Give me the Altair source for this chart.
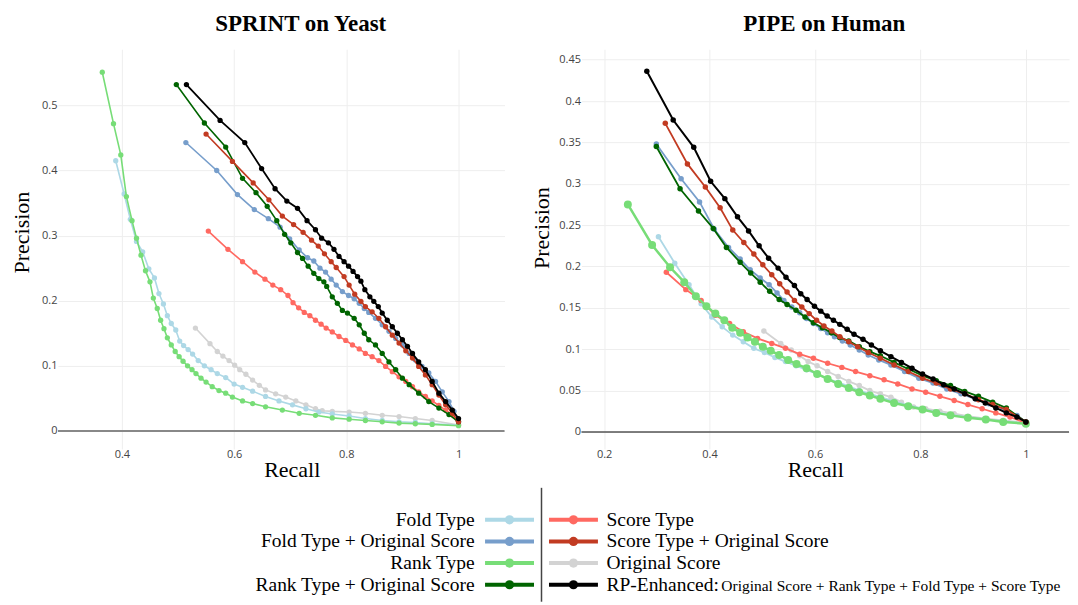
import altair as alt
import pandas as pd

SERIF = "Liberation Serif"
SANS = "Open Sans"

SERIES = ["Fold Type", "Fold Type + Original Score", "Rank Type", "Rank Type + Original Score",
          "Score Type", "Score Type + Original Score", "Original Score", "RP-Enhanced"]
COLORS = ["#ADD8E6", "#779ECB", "#77DD77", "#006400", "#FF6961", "#C23B22", "#D3D3D3", "#000000"]
DRAW_ORDER = ["Original Score", "Fold Type", "Score Type", "Rank Type", "Fold Type + Original Score",
              "Rank Type + Original Score", "Score Type + Original Score", "RP-Enhanced"]

# ---------------- SPRINT on Yeast ----------------
Y_FOLD_R = [0.389, 0.404, 0.415, 0.426, 0.437, 0.448, 0.458, 0.466, 0.474, 0.481, 0.488, 0.496, 0.503, 0.510, 0.518, 0.526, 0.536, 0.547, 0.559, 0.570, 0.585, 0.600, 0.615, 0.633, 0.656, 0.680, 0.704, 0.728, 0.751, 0.775, 0.805, 0.834, 0.864, 0.894, 0.923, 0.953, 1.0]
Y_FOLD_P = [0.415, 0.364, 0.325, 0.291, 0.275, 0.249, 0.235, 0.211, 0.195, 0.177, 0.165, 0.155, 0.138, 0.131, 0.125, 0.118, 0.108, 0.100, 0.094, 0.088, 0.082, 0.072, 0.067, 0.061, 0.053, 0.046, 0.040, 0.034, 0.029, 0.026, 0.023, 0.019, 0.016, 0.014, 0.013, 0.011, 0.009]
Y_FOLDO_R = [0.514, 0.569, 0.606, 0.636, 0.661, 0.682, 0.699, 0.716, 0.731, 0.742, 0.753, 0.763, 0.773, 0.782, 0.793, 0.804, 0.814, 0.823, 0.832, 0.840, 0.852, 0.864, 0.876, 0.888, 0.900, 0.912, 0.923, 0.935, 0.947, 0.959, 0.971, 0.983, 0.992, 1.0]
Y_FOLDO_P = [0.443, 0.400, 0.363, 0.340, 0.326, 0.313, 0.295, 0.278, 0.266, 0.261, 0.250, 0.244, 0.233, 0.224, 0.214, 0.208, 0.203, 0.196, 0.188, 0.182, 0.173, 0.163, 0.153, 0.142, 0.132, 0.119, 0.109, 0.099, 0.089, 0.076, 0.060, 0.045, 0.030, 0.014]
Y_RANK_R = [0.365, 0.385, 0.398, 0.408, 0.418, 0.426, 0.434, 0.442, 0.450, 0.456, 0.463, 0.469, 0.475, 0.481, 0.488, 0.495, 0.502, 0.509, 0.517, 0.525, 0.532, 0.541, 0.550, 0.561, 0.573, 0.585, 0.597, 0.615, 0.633, 0.656, 0.686, 0.716, 0.745, 0.775, 0.805, 0.834, 0.864, 0.894, 0.923, 0.953, 1.0]
Y_RANK_P = [0.551, 0.472, 0.424, 0.360, 0.323, 0.296, 0.270, 0.246, 0.229, 0.204, 0.188, 0.170, 0.157, 0.143, 0.132, 0.122, 0.114, 0.107, 0.100, 0.094, 0.088, 0.081, 0.075, 0.068, 0.062, 0.058, 0.052, 0.046, 0.042, 0.037, 0.032, 0.027, 0.024, 0.020, 0.018, 0.016, 0.014, 0.012, 0.011, 0.010, 0.008]
Y_RANKO_R = [0.497, 0.547, 0.585, 0.615, 0.639, 0.659, 0.676, 0.690, 0.701, 0.713, 0.722, 0.732, 0.742, 0.751, 0.760, 0.765, 0.775, 0.784, 0.793, 0.802, 0.814, 0.823, 0.832, 0.840, 0.852, 0.864, 0.876, 0.888, 0.900, 0.912, 0.929, 0.947, 0.965, 0.983, 1.0]
Y_RANKO_P = [0.532, 0.473, 0.436, 0.388, 0.366, 0.345, 0.323, 0.302, 0.289, 0.274, 0.265, 0.253, 0.242, 0.234, 0.229, 0.222, 0.206, 0.196, 0.185, 0.181, 0.173, 0.163, 0.150, 0.140, 0.132, 0.119, 0.106, 0.094, 0.081, 0.071, 0.058, 0.045, 0.035, 0.025, 0.014]
Y_SCORE_R = [0.554, 0.589, 0.615, 0.637, 0.655, 0.669, 0.683, 0.696, 0.705, 0.715, 0.725, 0.735, 0.745, 0.755, 0.764, 0.775, 0.787, 0.799, 0.811, 0.823, 0.834, 0.846, 0.858, 0.870, 0.882, 0.894, 0.906, 0.918, 0.929, 0.941, 0.953, 0.965, 0.977, 0.989, 1.0]
Y_SCORE_P = [0.307, 0.279, 0.260, 0.244, 0.233, 0.224, 0.217, 0.208, 0.197, 0.189, 0.182, 0.177, 0.170, 0.164, 0.158, 0.152, 0.145, 0.139, 0.132, 0.126, 0.119, 0.114, 0.108, 0.099, 0.091, 0.083, 0.076, 0.068, 0.060, 0.053, 0.046, 0.039, 0.032, 0.025, 0.009]
Y_SCOREO_R = [0.550, 0.597, 0.634, 0.662, 0.686, 0.706, 0.723, 0.738, 0.750, 0.761, 0.773, 0.782, 0.796, 0.805, 0.815, 0.826, 0.834, 0.846, 0.858, 0.870, 0.882, 0.894, 0.906, 0.918, 0.929, 0.941, 0.953, 0.965, 0.977, 0.989, 1.0]
Y_SCOREO_P = [0.456, 0.414, 0.381, 0.355, 0.330, 0.317, 0.305, 0.293, 0.284, 0.272, 0.260, 0.251, 0.237, 0.224, 0.210, 0.199, 0.191, 0.183, 0.173, 0.160, 0.147, 0.135, 0.123, 0.112, 0.099, 0.086, 0.071, 0.055, 0.040, 0.027, 0.014]
Y_ORIG_R = [0.531, 0.557, 0.570, 0.580, 0.591, 0.601, 0.610, 0.621, 0.633, 0.645, 0.656, 0.674, 0.692, 0.710, 0.728, 0.745, 0.757, 0.775, 0.805, 0.834, 0.864, 0.894, 0.923, 0.953, 1.0]
Y_ORIG_P = [0.158, 0.134, 0.122, 0.115, 0.108, 0.101, 0.094, 0.087, 0.078, 0.070, 0.063, 0.057, 0.052, 0.046, 0.040, 0.034, 0.031, 0.030, 0.029, 0.027, 0.024, 0.022, 0.019, 0.016, 0.009]
Y_RP_R = [0.515, 0.575, 0.619, 0.649, 0.673, 0.694, 0.713, 0.730, 0.745, 0.756, 0.768, 0.778, 0.787, 0.796, 0.804, 0.812, 0.820, 0.826, 0.833, 0.842, 0.849, 0.857, 0.864, 0.873, 0.882, 0.891, 0.900, 0.909, 0.918, 0.929, 0.941, 0.953, 0.965, 0.977, 0.989, 1.0]
Y_RP_P = [0.532, 0.477, 0.443, 0.403, 0.372, 0.353, 0.342, 0.323, 0.309, 0.296, 0.289, 0.279, 0.268, 0.260, 0.253, 0.245, 0.237, 0.230, 0.217, 0.206, 0.199, 0.191, 0.181, 0.170, 0.160, 0.150, 0.140, 0.130, 0.119, 0.106, 0.094, 0.076, 0.058, 0.045, 0.032, 0.019]

# ---------------- PIPE on Human ----------------
H_FOLD_R = [0.303, 0.334, 0.361, 0.384, 0.404, 0.424, 0.444, 0.464, 0.484, 0.504, 0.524, 0.544, 0.564, 0.584, 0.604, 0.624, 0.644, 0.664, 0.684, 0.704, 0.724, 0.750, 0.777, 0.804, 0.830, 0.857, 0.890, 0.924, 0.957, 1.0]
H_FOLD_P = [0.236, 0.204, 0.178, 0.155, 0.139, 0.127, 0.117, 0.109, 0.101, 0.096, 0.090, 0.085, 0.080, 0.075, 0.070, 0.064, 0.060, 0.055, 0.050, 0.046, 0.042, 0.037, 0.032, 0.028, 0.024, 0.021, 0.018, 0.015, 0.013, 0.010]
H_FOLDO_R = [0.299, 0.346, 0.381, 0.409, 0.436, 0.458, 0.477, 0.496, 0.513, 0.528, 0.541, 0.556, 0.571, 0.584, 0.597, 0.611, 0.624, 0.637, 0.652, 0.667, 0.684, 0.701, 0.721, 0.744, 0.770, 0.797, 0.824, 0.850, 0.877, 0.904, 0.930, 0.957, 0.983, 1.0]
H_FOLDO_P = [0.348, 0.306, 0.278, 0.245, 0.223, 0.209, 0.196, 0.186, 0.178, 0.168, 0.159, 0.151, 0.144, 0.137, 0.131, 0.125, 0.120, 0.115, 0.110, 0.105, 0.099, 0.093, 0.087, 0.081, 0.073, 0.065, 0.059, 0.052, 0.046, 0.040, 0.034, 0.028, 0.020, 0.012]
H_RANK_R = [0.245, 0.291, 0.325, 0.352, 0.374, 0.394, 0.411, 0.428, 0.443, 0.458, 0.472, 0.486, 0.501, 0.516, 0.532, 0.549, 0.565, 0.584, 0.604, 0.624, 0.644, 0.664, 0.684, 0.704, 0.724, 0.750, 0.777, 0.804, 0.830, 0.857, 0.890, 0.924, 0.957, 1.0]
H_RANK_P = [0.275, 0.226, 0.199, 0.181, 0.164, 0.152, 0.143, 0.135, 0.126, 0.120, 0.114, 0.109, 0.103, 0.098, 0.093, 0.087, 0.082, 0.077, 0.070, 0.064, 0.058, 0.053, 0.048, 0.044, 0.040, 0.035, 0.031, 0.027, 0.023, 0.020, 0.017, 0.015, 0.012, 0.010]
H_RANKO_R = [0.299, 0.344, 0.379, 0.407, 0.432, 0.458, 0.478, 0.496, 0.514, 0.532, 0.547, 0.564, 0.581, 0.597, 0.614, 0.631, 0.647, 0.664, 0.684, 0.704, 0.724, 0.750, 0.777, 0.804, 0.830, 0.857, 0.884, 0.910, 0.937, 0.963, 1.0]
H_RANKO_P = [0.345, 0.294, 0.267, 0.246, 0.223, 0.205, 0.192, 0.181, 0.170, 0.160, 0.154, 0.147, 0.139, 0.132, 0.126, 0.120, 0.114, 0.110, 0.103, 0.097, 0.092, 0.084, 0.076, 0.068, 0.062, 0.056, 0.049, 0.043, 0.036, 0.029, 0.012]
H_SCORE_R = [0.318, 0.355, 0.384, 0.411, 0.438, 0.464, 0.491, 0.518, 0.544, 0.571, 0.597, 0.624, 0.651, 0.677, 0.704, 0.731, 0.757, 0.784, 0.810, 0.837, 0.864, 0.890, 0.917, 0.943, 0.970, 1.0]
H_SCORE_P = [0.193, 0.172, 0.159, 0.141, 0.131, 0.121, 0.113, 0.107, 0.101, 0.094, 0.089, 0.083, 0.078, 0.073, 0.068, 0.063, 0.058, 0.052, 0.048, 0.043, 0.038, 0.033, 0.028, 0.023, 0.018, 0.011]
H_SCOREO_R = [0.316, 0.358, 0.392, 0.420, 0.444, 0.465, 0.484, 0.501, 0.518, 0.533, 0.547, 0.561, 0.575, 0.589, 0.603, 0.617, 0.632, 0.647, 0.664, 0.681, 0.701, 0.724, 0.750, 0.777, 0.804, 0.830, 0.857, 0.884, 0.910, 0.937, 0.963, 1.0]
H_SCOREO_P = [0.373, 0.324, 0.296, 0.271, 0.244, 0.229, 0.215, 0.202, 0.190, 0.179, 0.169, 0.159, 0.151, 0.143, 0.135, 0.128, 0.122, 0.115, 0.109, 0.103, 0.096, 0.089, 0.081, 0.073, 0.065, 0.059, 0.052, 0.046, 0.039, 0.033, 0.027, 0.012]
H_ORIG_R = [0.503, 0.535, 0.555, 0.571, 0.587, 0.604, 0.624, 0.644, 0.664, 0.684, 0.704, 0.724, 0.744, 0.764, 0.774, 0.787, 0.810, 0.837, 0.864, 0.890, 0.924, 0.957, 1.0]
H_ORIG_P = [0.122, 0.107, 0.099, 0.092, 0.085, 0.080, 0.073, 0.067, 0.061, 0.056, 0.050, 0.046, 0.042, 0.036, 0.031, 0.030, 0.028, 0.025, 0.022, 0.019, 0.016, 0.014, 0.011]
H_RP_R = [0.281, 0.331, 0.370, 0.402, 0.429, 0.453, 0.474, 0.494, 0.512, 0.530, 0.545, 0.561, 0.573, 0.585, 0.599, 0.611, 0.623, 0.635, 0.647, 0.661, 0.674, 0.691, 0.707, 0.724, 0.744, 0.764, 0.784, 0.804, 0.824, 0.844, 0.864, 0.884, 0.904, 0.923, 0.943, 0.963, 0.983, 1.0]
H_RP_P = [0.436, 0.377, 0.344, 0.303, 0.282, 0.260, 0.243, 0.225, 0.210, 0.198, 0.187, 0.177, 0.167, 0.160, 0.152, 0.146, 0.140, 0.135, 0.130, 0.124, 0.118, 0.112, 0.105, 0.098, 0.091, 0.084, 0.077, 0.070, 0.064, 0.057, 0.052, 0.046, 0.040, 0.035, 0.029, 0.023, 0.018, 0.012]

# legend texts
LEG_LABELS = ["Fold Type", "Fold Type + Original Score", "Rank Type", "Rank Type + Original Score",
              "Score Type", "Score Type + Original Score", "Original Score", "RP-Enhanced:"]
LEG_SUFFIX = ["", "", "", "", "", "", "", "Original Score + Rank Type + Fold Type + Score Type"]
LEG_COL = [0, 0, 0, 0, 1, 1, 1, 1]
LEG_ROW = [0, 1, 2, 3, 0, 1, 2, 3]


def build_df(pairs):
    rows = []
    for name, (rs, ps) in zip(SERIES, pairs):
        for i, (r, p) in enumerate(zip(rs, ps)):
            rows.append({"series": name, "recall": r, "precision": p, "idx": i})
    return pd.DataFrame(rows)


yeast_df = build_df([(Y_FOLD_R, Y_FOLD_P), (Y_FOLDO_R, Y_FOLDO_P), (Y_RANK_R, Y_RANK_P),
                     (Y_RANKO_R, Y_RANKO_P), (Y_SCORE_R, Y_SCORE_P), (Y_SCOREO_R, Y_SCOREO_P),
                     (Y_ORIG_R, Y_ORIG_P), (Y_RP_R, Y_RP_P)])
human_df = build_df([(H_FOLD_R, H_FOLD_P), (H_FOLDO_R, H_FOLDO_P), (H_RANK_R, H_RANK_P),
                     (H_RANKO_R, H_RANKO_P), (H_SCORE_R, H_SCORE_P), (H_SCOREO_R, H_SCOREO_P),
                     (H_ORIG_R, H_ORIG_P), (H_RP_R, H_RP_P)])
color_of = dict(zip(SERIES, COLORS))


def panel(df, title, title_dx, xdom, ydom, w, h, xticks, yticks, ytx, yty,
          zero_color, zero_w, styles):
    x = alt.X("recall:Q", scale=alt.Scale(domain=xdom, nice=False, zero=False),
              axis=alt.Axis(values=xticks, format="~g", title="Recall", titleX=234, titleY=28,
                            titleBaseline="alphabetic", titleAlign="center", labelPadding=0))
    y = alt.Y("precision:Q", scale=alt.Scale(domain=ydom, nice=False, zero=False),
              axis=alt.Axis(values=yticks, format="~g", title="Precision", titleX=ytx, titleY=yty,
                            titleAngle=270, titleBaseline="alphabetic", titleAlign="center",
                            labelPadding=1))
    zero = alt.Chart(pd.DataFrame({"z": [0]})).mark_rule(
        color=zero_color, strokeWidth=zero_w).encode(y=alt.datum(0, scale=alt.Scale(domain=ydom, nice=False, zero=False)))
    layers = [zero]
    base = alt.Chart(df)
    for name in DRAW_ORDER:
        sw, ms = styles.get(name, styles["default"])
        sub = base.transform_filter(alt.datum.series == name)
        layers.append(sub.mark_line(color=color_of[name], strokeWidth=sw).encode(
            x=x, y=y, order="idx:Q"))
        layers.append(sub.mark_circle(color=color_of[name], size=ms, opacity=1).encode(x=x, y=y))
    return alt.layer(*layers).properties(
        width=w, height=h,
        title=alt.TitleParams(title, font=SERIF, fontSize=23, fontWeight="bold", color="black",
                              anchor="middle", dx=title_dx, offset=-5, baseline="alphabetic",
                              frame="group"))


left = panel(yeast_df, "SPRINT on Yeast", 19.5, [0.286, 1.082], [-0.0276, 0.5863], 447, 400,
             [0.4, 0.6, 0.8, 1], [0, 0.1, 0.2, 0.3, 0.4, 0.5], -29, 183, "#888888", 2,
             {"default": (1.6, 28), "RP-Enhanced": (1.8, 28)})
right = panel(human_df, "PIPE on Human", -1, [0.157, 1.0818], [-0.0205, 0.4626], 488, 400,
              [0.2, 0.4, 0.6, 0.8, 1], [0, 0.05, 0.1, 0.15, 0.2, 0.25, 0.3, 0.35, 0.4, 0.45],
              -33, 178.5, "#555555", 1.5,
              {"default": (1.8, 30), "Rank Type": (2.5, 64), "RP-Enhanced": (2.0, 30)})

# ---------------- custom legend ----------------
leg_df = pd.DataFrame({"name": SERIES, "label": LEG_LABELS, "suffix": LEG_SUFFIX,
                       "col": LEG_COL, "row": LEG_ROW})
LY = alt.Y("row:Q", scale=alt.Scale(domain=[0, 3], range=[30, 95], nice=False, zero=False), axis=None)
LC = alt.Color("name:N", scale=alt.Scale(domain=SERIES, range=COLORS), legend=None)
leg = alt.Chart(leg_df)
legL = leg.transform_filter(alt.datum.col == 0)
legR = leg.transform_filter(alt.datum.col == 1)
legend = alt.layer(
    alt.Chart(pd.DataFrame({"d": [0]})).mark_rule(color="#444444", strokeWidth=1.5).encode(
        x=alt.value(484), y=alt.value(-2), y2=alt.value(112)),
    legL.mark_tick(orient="horizontal", size=49, thickness=4, opacity=1).encode(
        x=alt.value(452), y=LY, color=LC),
    legL.mark_circle(size=85, opacity=1).encode(x=alt.value(452), y=LY, color=LC),
    legL.mark_text(align="right", baseline="alphabetic", dy=6, font=SERIF, fontSize=19.5,
                   color="black").encode(x=alt.value(417), y=LY, text="label:N"),
    legR.mark_tick(orient="horizontal", size=49, thickness=4, opacity=1).encode(
        x=alt.value(516), y=LY, color=LC),
    legR.mark_circle(size=85, opacity=1).encode(x=alt.value(516), y=LY, color=LC),
    legR.mark_text(align="left", baseline="alphabetic", dy=6, font=SERIF, fontSize=19.5,
                   color="black").encode(x=alt.value(549), y=LY, text="label:N"),
    legR.transform_filter(alt.datum.suffix != "").mark_text(
        align="left", baseline="alphabetic", dy=6, font=SERIF, fontSize=15.5,
        color="black").encode(x=alt.value(664), y=LY, text="suffix:N"),
).properties(width=1000, height=112)

top = alt.hconcat(left, right, spacing=77, bounds="flush")
chart = alt.vconcat(top, legend, spacing=6, bounds="full").properties(
    padding={"left": 3, "top": 5, "right": 0, "bottom": 0}
).configure_view(stroke=None).configure_axis(
    grid=True, gridColor="#eeeeee", gridWidth=1, domain=False, ticks=False, tickSize=0,
    labelFont=SANS, labelFontSize=11, labelColor="#444444",
    titleFont=SERIF, titleFontSize=22, titleFontWeight="normal", titleColor="black"
).configure_title(font=SERIF)

chart.save("out.html", embed_options={"renderer": "svg", "actions": False})
